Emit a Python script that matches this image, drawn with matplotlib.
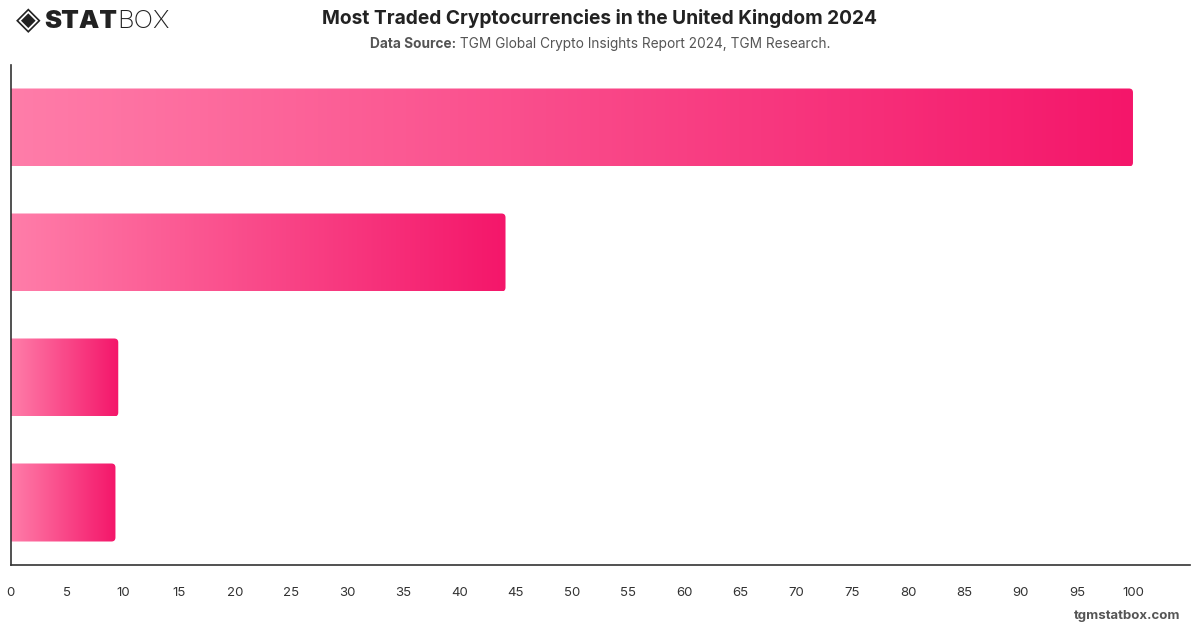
import numpy as np
import matplotlib
matplotlib.use('Agg')
import matplotlib.pyplot as plt
from matplotlib.colors import LinearSegmentedColormap
from matplotlib.patches import FancyBboxPatch

# ---------------- data ----------------
values = [100, 44.1, 9.6, 9.35]
xticks = list(range(0, 101, 5))

title = 'Most Traded Cryptocurrencies in the United Kingdom 2024'
source_bold = 'Data Source:'
source_text = ' TGM Global Crypto Insights Report 2024, TGM Research.'
footer = 'tgmstatbox.com'

# ---------------- style ----------------
W, H, DPI = 1200, 628, 100
bar_height = 0.624
c_left = '#FF7DA9'
c_right = '#F4166A'
spine_color = '#333333'
text_color = '#222222'
grey = '#555555'
sub_size = 9.85
cmap = LinearSegmentedColormap.from_list('pinkgrad', [c_left, c_right])
plt.rcParams['font.family'] = ['Inter', 'DejaVu Sans']

fig = plt.figure(figsize=(W / DPI, H / DPI), dpi=DPI)
ax_left, ax_bottom = 10.5 / W, (H - 565) / H
ax_w, ax_h = (1190 - 10.5) / W, 500 / H
ax = fig.add_axes([ax_left, ax_bottom, ax_w, ax_h])

xmax = 105.08
n = len(values)

# units per pixel, for the rounded corners
x_per_px = xmax / (ax_w * W)
y_per_px = n / (ax_h * H)
grad = np.linspace(0, 1, 256).reshape(1, -1)

bars = ax.barh(range(n), values, height=bar_height, color='none')
for rect in bars:
    x0, y0 = rect.get_x(), rect.get_y()
    w, h = rect.get_width(), rect.get_height()
    im = ax.imshow(grad, cmap=cmap, aspect='auto',
                   extent=[x0, x0 + w, y0 + h, y0], zorder=2)
    clip = FancyBboxPatch((x0 - 2, y0), w + 2, h,
                          boxstyle='round,pad=0,rounding_size=%f' % (4 * x_per_px),
                          mutation_aspect=y_per_px / x_per_px,
                          transform=ax.transData, facecolor='none', edgecolor='none')
    ax.add_patch(clip)
    im.set_clip_path(clip)

ax.set_ylim(n - 0.5, -0.5)
ax.set_xlim(0, xmax)

for s in ['top', 'right']:
    ax.spines[s].set_visible(False)
for s in ['left', 'bottom']:
    ax.spines[s].set_color(spine_color)
    ax.spines[s].set_linewidth(1.2)

ax.set_xticks(xticks)
ax.set_xticklabels([str(t) for t in xticks])
ax.set_yticks([])
ax.tick_params(axis='x', length=0, pad=16, labelsize=9.5, labelcolor='#333333')

# ---------------- titles ----------------
fig.text(0.5, 1 - 18 / H, title, ha='center', va='center',
         fontsize=13.8, fontweight='bold', color=text_color)

# subtitle: bold + regular parts, centred together
r = fig.canvas.get_renderer()
tmp1 = fig.text(0, 0, source_bold, fontsize=sub_size, fontweight='bold')
tmp2 = fig.text(0, 0, source_text, fontsize=sub_size)
w1 = tmp1.get_window_extent(r).width
w2 = tmp2.get_window_extent(r).width
tmp1.remove()
tmp2.remove()
start = W / 2 - (w1 + w2) / 2
fig.text(start / W, 1 - 44 / H, source_bold, ha='left', va='center',
         fontsize=sub_size, fontweight='bold', color=grey)
fig.text((start + w1) / W, 1 - 44 / H, source_text, ha='left', va='center',
         fontsize=sub_size, color=grey)

fig.text(1 - 20 / W, 1 - 616 / H, footer, ha='right', va='center',
         fontsize=9.5, fontweight='bold', color=grey)

# ---------------- logo ----------------
fig.text(28 / W, 1 - 21 / H, '\u25C8', ha='center', va='center',
         fontsize=23, color='#222222', family=['DejaVu Sans'])
fig.text(44 / W, 1 - 21 / H, 'STAT', ha='left', va='center',
         fontsize=18.5, fontweight='black', color='#222222')
fig.text(117 / W, 1 - 21 / H, 'BOX', ha='left', va='center',
         fontsize=18.5, fontweight='light', color='#222222')

fig.savefig('out.png', dpi=DPI)
